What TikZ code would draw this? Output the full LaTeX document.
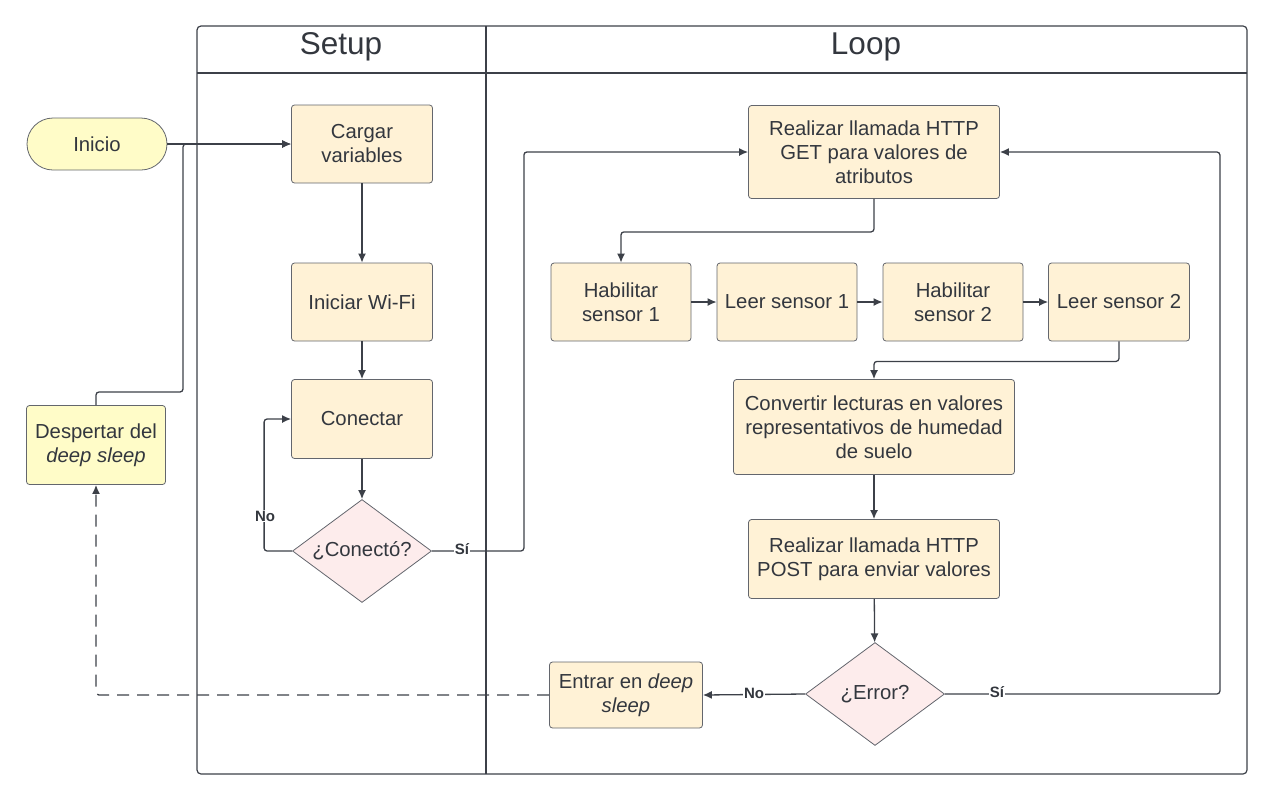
\documentclass[tikz,border=0pt]{standalone}
\usepackage{fontspec}
\setmainfont{Liberation Sans}
\usepackage{tikz}
\usetikzlibrary{arrows.meta,shapes.geometric}
\definecolor{foreground}{RGB}{51,55,62}
\definecolor{linecol}{RGB}{60,64,72}
\definecolor{procfill}{RGB}{255,242,214}
\definecolor{termfill}{RGB}{255,252,200}
\definecolor{decfill}{RGB}{253,236,236}
\tikzstyle{proc}=[rectangle,rounded corners=3pt,draw=linecol!80,fill=procfill,line width=0.8pt,align=center,text=foreground,font=\fontsize{20.3}{24}\selectfont]
\tikzstyle{term}=[proc,fill=termfill]
\tikzstyle{dec}=[diamond,aspect=1.35,draw=linecol!80,fill=decfill,line width=0.8pt,inner sep=0pt,minimum width=139pt,minimum height=103pt,text=foreground,font=\fontsize{20.3}{24}\selectfont]
\tikzstyle{lbl}=[fill=white,inner sep=1pt,text=foreground,font=\fontsize{15}{17}\selectfont\bfseries]
\tikzstyle{edge} = [draw=linecol,line width=1.3pt,rounded corners=3pt,-]
\tikzstyle{dedge} = [edge,-{Latex[length=9pt,width=8pt]}]

\begin{document}
\begin{tikzpicture}[x=1pt,y=-1pt]
      \useasboundingbox (0,0) rectangle (1274,801);

      % lanes
      \draw[linecol,line width=1.2pt,rounded corners=4pt] (197,26) rectangle (1247,774);
      \draw[linecol,line width=1.2pt] (197,73) -- (1247,73);
      \draw[linecol,line width=1.2pt] (486,26) -- (486,774);
      \node[text=foreground,font=\fontsize{31.5}{36}\selectfont] (setup) at (341,47) {Setup};
      \node[text=foreground,font=\fontsize{31.5}{36}\selectfont] (loop) at (866,47) {Loop};

      % setup
      \node[term,rounded corners=26pt,minimum width=140pt,minimum height=52pt] (inicio) at (97,144) {Inicio};
      \node[term,minimum width=139pt,minimum height=79pt] (despertar) at (96,445) {Despertar del\\\textit{deep sleep}};
      \node[proc,minimum width=141pt,minimum height=78pt] (cargar) at (362,144) {Cargar\\variables};
      \node[proc,minimum width=141pt,minimum height=78pt] (wifi) at (362,302) {Iniciar Wi-Fi};
      \node[proc,minimum width=141pt,minimum height=79pt] (conectar) at (362,419) {Conectar};
      \node[dec] (conecto) at (362,551) {¿Conectó?};

      % loop
      \node[proc,minimum width=251pt,minimum height=93pt] (get) at (874,152) {Realizar llamada HTTP\\GET para valores de\\atributos};
      \node[proc,minimum width=140pt,minimum height=78pt] (hab1) at (621,302) {Habilitar\\sensor 1};
      \node[proc,minimum width=140pt,minimum height=78pt] (leer1) at (787,302) {Leer sensor 1};
      \node[proc,minimum width=140pt,minimum height=78pt] (hab2) at (953,302) {Habilitar\\sensor 2};
      \node[proc,minimum width=141pt,minimum height=78pt] (leer2) at (1119,302) {Leer sensor 2};
      \node[proc,minimum width=281pt,minimum height=95pt] (convertir) at (874,427) {Convertir lecturas en valores\\representativos de humedad\\de suelo};
      \node[proc,minimum width=251pt,minimum height=79pt] (post) at (874,559) {Realizar llamada HTTP\\POST para enviar valores};
      \node[dec] (error) at (875,694) {¿Error?};
      \node[proc,minimum width=153pt,minimum height=66pt] (entrar) at (626,695) {Entrar en \textit{deep}\\\textit{sleep}};

      \coordinate (wake) at (183,392);
      \coordinate (join) at (183,144);

      \path[dedge] (inicio) -- (cargar);
      \path[dedge] (despertar.north) |- (wake) -- (join) -- (cargar.west);
      \path[dedge] (cargar) -- (wifi);
      \path[dedge] (wifi) -- (conectar);
      \path[dedge] (conectar) -- (conecto);
      \path[dedge] (conecto.west) -- ++(-28,0) |- (conectar.west);
      \path[dedge] (conecto.east) -- ++(92,0) |- (get.west);
      \node[lbl] (no1) at (265,516) {No};
      \node[lbl] (si1) at (462,549) {Sí};

      \path[dedge] (get.south) -- ++(0,33) -| (hab1.north);
      \path[dedge] (hab1) -- (leer1);
      \path[dedge] (leer1) -- (hab2);
      \path[dedge] (hab2) -- (leer2);
      \path[dedge] (leer2.south) -- ++(0,20) -| (convertir.north);
      \path[dedge] (convertir) -- (post);
      \path[dedge] (post) -- (error);
      \path[dedge] (error.east) -- ++(275,0) |- (get.east);
      \path[dedge] (error.west) -- (entrar.east);
      \node[lbl] (si2) at (997,692) {Sí};
      \node[lbl] (no2) at (754,693) {No};

      \path[dedge,dashed,dash pattern=on 12pt off 8pt] (entrar.west) -| (despertar.south);

    \end{tikzpicture}
\end{document}
